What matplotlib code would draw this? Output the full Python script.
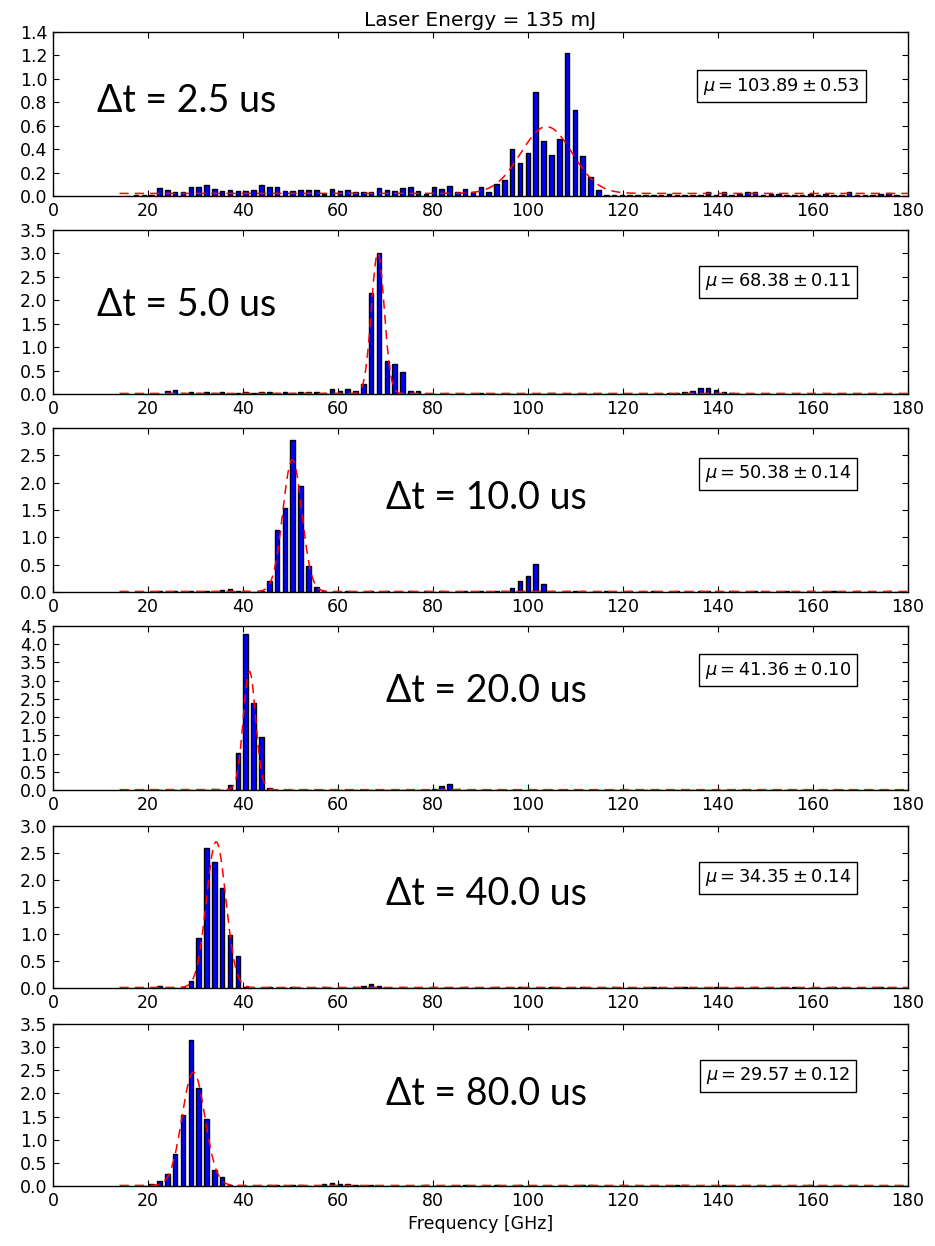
import numpy as np
import matplotlib
matplotlib.use("Agg")
import matplotlib.pyplot as plt

# Histogram binning: 100 bins spanning 15-180 GHz
edges = np.linspace(15.0, 180.0, 101)
centers = 0.5 * (edges[:-1] + edges[1:])
bin_w = edges[1] - edges[0]

delays = ["2.5", "5.0", "10.0", "20.0", "40.0", "80.0"]
y_max = [1.4, 3.5, 3.0, 4.5, 3.0, 3.5]

# Gaussian fit results per delay
fit_mu = [103.89, 68.38, 50.38, 41.36, 34.35, 29.57]
fit_err = [0.53, 0.11, 0.14, 0.10, 0.14, 0.12]
fit_amp = [0.57, 3.0, 2.41, 3.25, 2.7, 2.45]
fit_sigma = [5.4, 1.35, 2.0, 1.3, 2.05, 2.4]
fit_offset = [0.022, 0.012, 0.01, 0.01, 0.01, 0.012]

counts_2p5 = [
    0, 0.005, 0.01, 0.01, 0.065, 0.05, 0.03, 0.03, 0.08, 0.08,
    0.09, 0.06, 0.045, 0.055, 0.045, 0.045, 0.055, 0.095, 0.075, 0.08,
    0.04, 0.04, 0.055, 0.055, 0.05, 0.02, 0.06, 0.045, 0.055, 0.03,
    0.035, 0.03, 0.07, 0.055, 0.04, 0.065, 0.075, 0.04, 0.02, 0.075,
    0.06, 0.085, 0.03, 0.06, 0.03, 0.08, 0.035, 0.10, 0.14, 0.40,
    0.28, 0.37, 0.89, 0.47, 0.35, 0.49, 1.22, 0.73, 0.34, 0.16,
    0.05, 0.01, 0.01, 0.01, 0.01, 0.01, 0.005, 0.01, 0.005, 0.02,
    0.01, 0.01, 0.01, 0.01, 0.03, 0.01, 0.035, 0.005, 0.02, 0.03,
    0.03, 0.005, 0.02, 0.015, 0.01, 0.005, 0.01, 0.02, 0.01, 0.015,
    0.005, 0.005, 0.03, 0.01, 0.005, 0.005, 0.02, 0.025, 0.005, 0,
]
counts_5p0 = [
    0, 0, 0.005, 0.01, 0.01, 0.06, 0.085, 0.02, 0.05, 0.03,
    0.035, 0.02, 0.035, 0.01, 0.02, 0.035, 0.02, 0.05, 0.05, 0.02,
    0.05, 0.02, 0.035, 0.05, 0.045, 0.02, 0.10, 0.06, 0.11, 0.07,
    0.21, 2.15, 3.0, 0.70, 0.64, 0.47, 0.07, 0.06, 0.01, 0.01,
    0.005, 0.01, 0.01, 0.005, 0.01, 0.02, 0.005, 0.01, 0.005, 0.01,
    0.005, 0.01, 0.005, 0.01, 0.015, 0.005, 0.01, 0.005, 0.01, 0.01,
    0.005, 0.01, 0.005, 0.01, 0.005, 0.005, 0.01, 0.005, 0.01, 0.02,
    0.02, 0.05, 0.07, 0.12, 0.12, 0.08, 0.05, 0.02, 0.01, 0.01,
    0.005, 0.01, 0.005, 0.01, 0.005, 0.01, 0.005, 0.01, 0.005, 0.01,
    0.005, 0.01, 0.005, 0.005, 0.01, 0.005, 0.005, 0.01, 0.005, 0.005,
]
counts_10p0 = [
    0, 0, 0.005, 0.005, 0.01, 0.005, 0.01, 0.005, 0.01, 0.005,
    0.01, 0.005, 0.03, 0.06, 0.01, 0.01, 0.005, 0.01, 0.2, 1.13,
    1.53, 2.78, 1.93, 0.48, 0.085, 0.01, 0.005, 0.005, 0.01, 0.005,
    0.005, 0.01, 0.005, 0.01, 0.005, 0.005, 0.01, 0.005, 0.01, 0.005,
    0.01, 0.005, 0.005, 0.01, 0.005, 0.01, 0.005, 0.01, 0.02, 0.08,
    0.2, 0.3, 0.52, 0.15, 0.01, 0.005, 0.01, 0.02, 0.01, 0.005,
    0.005, 0.01, 0.005, 0.005, 0.01, 0.005, 0.005, 0.01, 0.005, 0.005,
    0.01, 0.005, 0.005, 0.01, 0.015, 0.005, 0.005, 0.01, 0.005, 0.005,
    0.01, 0.005, 0.005, 0.005, 0.01, 0.005, 0.005, 0.01, 0.005, 0.005,
    0.01, 0.005, 0.005, 0.01, 0.005, 0.005, 0.005, 0.01, 0.005, 0.005,
]
counts_20p0 = [
    0, 0, 0.005, 0.005, 0.01, 0.005, 0.005, 0.01, 0.005, 0.01,
    0.005, 0.02, 0.005, 0.15, 1.02, 4.28, 2.38, 1.45, 0.05, 0.005,
    0.005, 0.005, 0.01, 0.005, 0.005, 0.01, 0.005, 0.005, 0.005, 0.01,
    0.005, 0.005, 0.01, 0.005, 0.005, 0.005, 0.01, 0.005, 0.01, 0.03,
    0.1, 0.17, 0.02, 0.005, 0.005, 0.01, 0.005, 0.005, 0.005, 0.01,
    0.005, 0.005, 0.01, 0.005, 0.005, 0.005, 0.01, 0.005, 0.005, 0.005,
    0.01, 0.005, 0.005, 0.005, 0.01, 0.005, 0.005, 0.005, 0.01, 0.005,
    0.005, 0.005, 0.01, 0.005, 0.005, 0.005, 0.01, 0.005, 0.005, 0.005,
    0.01, 0.005, 0.005, 0.005, 0.005, 0.01, 0.005, 0.005, 0.005, 0.005,
    0.01, 0.005, 0.005, 0.005, 0.005, 0.01, 0.005, 0.005, 0.005, 0.005,
]
counts_40p0 = [
    0, 0, 0.005, 0.005, 0.03, 0.005, 0.005, 0.01, 0.13, 0.93,
    2.6, 2.33, 1.85, 0.98, 0.6, 0.02, 0.005, 0.005, 0.01, 0.005,
    0.005, 0.01, 0.005, 0.005, 0.005, 0.01, 0.005, 0.005, 0.005, 0.01,
    0.03, 0.07, 0.04, 0.005, 0.005, 0.01, 0.005, 0.005, 0.005, 0.01,
    0.005, 0.005, 0.005, 0.01, 0.005, 0.005, 0.005, 0.01, 0.005, 0.005,
    0.01, 0.005, 0.005, 0.005, 0.01, 0.005, 0.005, 0.005, 0.01, 0.005,
    0.005, 0.005, 0.01, 0.005, 0.005, 0.005, 0.005, 0.01, 0.005, 0.005,
    0.005, 0.01, 0.005, 0.005, 0.005, 0.01, 0.005, 0.005, 0.005, 0.005,
    0.01, 0.005, 0.005, 0.005, 0.005, 0.01, 0.005, 0.005, 0.005, 0.005,
    0.01, 0.005, 0.005, 0.005, 0.005, 0.005, 0.01, 0.005, 0.005, 0.005,
]
counts_80p0 = [
    0, 0, 0.005, 0.04, 0.1, 0.26, 0.7, 1.53, 3.15, 2.11,
    1.45, 0.35, 0.2, 0.03, 0.01, 0.005, 0.01, 0.005, 0.03, 0.03,
    0.01, 0.03, 0.03, 0.01, 0.01, 0.05, 0.06, 0.05, 0.04, 0.03,
    0.01, 0.02, 0.01, 0.005, 0.01, 0.005, 0.01, 0.005, 0.03, 0.01,
    0.005, 0.01, 0.005, 0.02, 0.005, 0.01, 0.005, 0.03, 0.005, 0.01,
    0.02, 0.005, 0.01, 0.005, 0.01, 0.005, 0.01, 0.005, 0.03, 0.03,
    0.005, 0.01, 0.005, 0.02, 0.005, 0.01, 0.005, 0.01, 0.005, 0.01,
    0.02, 0.03, 0.005, 0.01, 0.005, 0.01, 0.02, 0.005, 0.01, 0.005,
    0.01, 0.005, 0.01, 0.005, 0.01, 0.005, 0.01, 0.02, 0.005, 0.01,
    0.005, 0.01, 0.005, 0.01, 0.005, 0.01, 0.005, 0.01, 0.005, 0.01,
]
all_counts = [counts_2p5, counts_5p0, counts_10p0, counts_20p0, counts_40p0, counts_80p0]

# Layout (pixels on a 935 x 1246 canvas)
W, H = 935, 1246
ax_left, ax_right = 53, 908
ax_rows = [(32, 196), (230, 394), (428, 592), (626, 790), (826, 988), (1024, 1186)]
label_xy = [(0.052, 0.58), (0.052, 0.54), (0.389, 0.575),
            (0.389, 0.605), (0.389, 0.58), (0.389, 0.57)]
box_xy = [(0.852, 0.67), (0.848, 0.683), (0.848, 0.72),
          (0.848, 0.73), (0.848, 0.68), (0.848, 0.68)]

fig = plt.figure(figsize=(W / 100, H / 100), dpi=100)
fig.patch.set_facecolor("white")

x_fit = np.linspace(14.0, 180.0, 600)
axes = []
for i, (top, bot) in enumerate(ax_rows):
    ax = fig.add_axes([ax_left / W, 1 - bot / H, (ax_right - ax_left) / W, (bot - top) / H])
    axes.append(ax)
    ax.bar(centers, all_counts[i], width=bin_w * 0.58, color="#0000ff",
           edgecolor="black", linewidth=1.0, zorder=2)
    y_fit = fit_offset[i] + fit_amp[i] * np.exp(-(x_fit - fit_mu[i]) ** 2 / (2 * fit_sigma[i] ** 2))
    ax.plot(x_fit, y_fit, ls="--", color="red", lw=1.1, dashes=(6, 4), zorder=3)

    ax.set_xlim(0, 180)
    ax.set_ylim(0, y_max[i])
    ax.set_xticks(np.arange(0, 181, 20))
    step = 0.2 if y_max[i] < 2 else 0.5
    yt = np.arange(0, y_max[i] + 1e-9, step)
    ax.set_yticks(yt)
    ax.set_yticklabels([f"{v:.1f}" for v in yt])
    ax.tick_params(direction="in", top=True, right=True, length=4.5, width=0.8,
                   labelsize=12.5, pad=4)
    for s in ax.spines.values():
        s.set_linewidth(1.0)

    ax.text(label_xy[i][0], label_xy[i][1], f"Δt = {delays[i]} us",
            transform=ax.transAxes, fontsize=27, family="Lato",
            ha="left", va="center", zorder=4)
    ax.text(box_xy[i][0], box_xy[i][1],
            rf"$\mu = {fit_mu[i]:.2f} \pm {fit_err[i]:.2f}$",
            transform=ax.transAxes, fontsize=12.8, ha="center", va="center",
            bbox=dict(boxstyle="square,pad=0.32", facecolor="white",
                      edgecolor="black", linewidth=1.0), zorder=5)

axes[0].set_title("Laser Energy = 135 mJ", fontsize=14.5, pad=4)
axes[-1].set_xlabel("Frequency [GHz]", fontsize=12.5, labelpad=4)

fig.savefig("out.png", dpi=100, facecolor="white")
